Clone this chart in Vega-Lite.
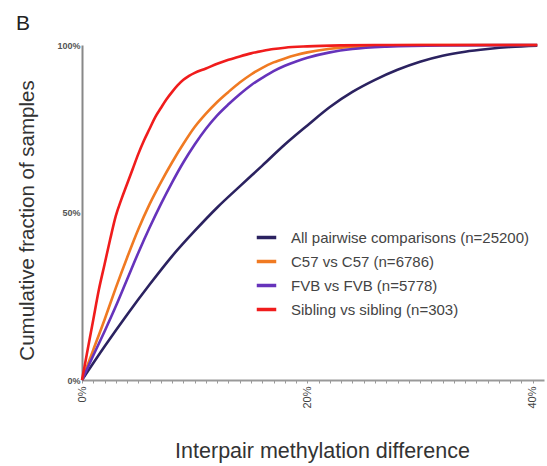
{
  "$schema": "https://vega.github.io/schema/vega-lite/v6.json",
  "autosize": {"type": "none"},
  "padding": {"left": 82, "top": 45, "right": 3, "bottom": 86},
  "width": 462,
  "height": 335,
  "background": "white",
  "config": {"font": "Liberation Sans", "view": {"stroke": null}},
  "title": {"text": "B", "anchor": "start", "frame": "group", "dx": -66, "offset": 6, "fontSize": 21, "fontWeight": "normal", "color": "#222"},
  "data": {"values": [
    {"s": "All pairwise comparisons (n=25200)", "x": 0, "y": 0},
    {"s": "All pairwise comparisons (n=25200)", "x": 2, "y": 10},
    {"s": "All pairwise comparisons (n=25200)", "x": 4, "y": 19.5},
    {"s": "All pairwise comparisons (n=25200)", "x": 6, "y": 28.5},
    {"s": "All pairwise comparisons (n=25200)", "x": 8, "y": 37},
    {"s": "All pairwise comparisons (n=25200)", "x": 10, "y": 44.5},
    {"s": "All pairwise comparisons (n=25200)", "x": 12, "y": 51.5},
    {"s": "All pairwise comparisons (n=25200)", "x": 14, "y": 57.8},
    {"s": "All pairwise comparisons (n=25200)", "x": 16, "y": 64},
    {"s": "All pairwise comparisons (n=25200)", "x": 18, "y": 70.3},
    {"s": "All pairwise comparisons (n=25200)", "x": 20, "y": 76},
    {"s": "All pairwise comparisons (n=25200)", "x": 22, "y": 81.5},
    {"s": "All pairwise comparisons (n=25200)", "x": 24, "y": 86},
    {"s": "All pairwise comparisons (n=25200)", "x": 26, "y": 89.6},
    {"s": "All pairwise comparisons (n=25200)", "x": 28, "y": 92.6},
    {"s": "All pairwise comparisons (n=25200)", "x": 30, "y": 95},
    {"s": "All pairwise comparisons (n=25200)", "x": 32, "y": 96.8},
    {"s": "All pairwise comparisons (n=25200)", "x": 34, "y": 98},
    {"s": "All pairwise comparisons (n=25200)", "x": 36, "y": 98.8},
    {"s": "All pairwise comparisons (n=25200)", "x": 38, "y": 99.4},
    {"s": "All pairwise comparisons (n=25200)", "x": 40.4, "y": 99.8},

    {"s": "C57 vs C57 (n=6786)", "x": 0, "y": 0},
    {"s": "C57 vs C57 (n=6786)", "x": 1, "y": 9},
    {"s": "C57 vs C57 (n=6786)", "x": 2, "y": 18},
    {"s": "C57 vs C57 (n=6786)", "x": 3, "y": 27.5},
    {"s": "C57 vs C57 (n=6786)", "x": 4, "y": 36.5},
    {"s": "C57 vs C57 (n=6786)", "x": 5, "y": 45},
    {"s": "C57 vs C57 (n=6786)", "x": 6, "y": 52.5},
    {"s": "C57 vs C57 (n=6786)", "x": 7, "y": 59},
    {"s": "C57 vs C57 (n=6786)", "x": 8, "y": 65},
    {"s": "C57 vs C57 (n=6786)", "x": 9, "y": 70.5},
    {"s": "C57 vs C57 (n=6786)", "x": 10, "y": 75.5},
    {"s": "C57 vs C57 (n=6786)", "x": 11, "y": 79.5},
    {"s": "C57 vs C57 (n=6786)", "x": 12, "y": 83},
    {"s": "C57 vs C57 (n=6786)", "x": 13, "y": 86},
    {"s": "C57 vs C57 (n=6786)", "x": 14, "y": 88.8},
    {"s": "C57 vs C57 (n=6786)", "x": 15, "y": 91.2},
    {"s": "C57 vs C57 (n=6786)", "x": 16, "y": 93.2},
    {"s": "C57 vs C57 (n=6786)", "x": 17, "y": 94.8},
    {"s": "C57 vs C57 (n=6786)", "x": 18, "y": 96},
    {"s": "C57 vs C57 (n=6786)", "x": 19, "y": 97},
    {"s": "C57 vs C57 (n=6786)", "x": 20, "y": 97.8},
    {"s": "C57 vs C57 (n=6786)", "x": 22, "y": 98.9},
    {"s": "C57 vs C57 (n=6786)", "x": 25, "y": 99.6},
    {"s": "C57 vs C57 (n=6786)", "x": 30, "y": 99.95},
    {"s": "C57 vs C57 (n=6786)", "x": 40.4, "y": 100},

    {"s": "FVB vs FVB (n=5778)", "x": 0, "y": 0},
    {"s": "FVB vs FVB (n=5778)", "x": 1, "y": 7.3},
    {"s": "FVB vs FVB (n=5778)", "x": 2, "y": 14.5},
    {"s": "FVB vs FVB (n=5778)", "x": 3, "y": 22},
    {"s": "FVB vs FVB (n=5778)", "x": 4, "y": 30},
    {"s": "FVB vs FVB (n=5778)", "x": 5, "y": 38},
    {"s": "FVB vs FVB (n=5778)", "x": 6, "y": 45.5},
    {"s": "FVB vs FVB (n=5778)", "x": 7, "y": 52.5},
    {"s": "FVB vs FVB (n=5778)", "x": 8, "y": 59},
    {"s": "FVB vs FVB (n=5778)", "x": 9, "y": 65},
    {"s": "FVB vs FVB (n=5778)", "x": 10, "y": 70.3},
    {"s": "FVB vs FVB (n=5778)", "x": 11, "y": 75},
    {"s": "FVB vs FVB (n=5778)", "x": 12, "y": 79},
    {"s": "FVB vs FVB (n=5778)", "x": 13, "y": 82.3},
    {"s": "FVB vs FVB (n=5778)", "x": 14, "y": 85.3},
    {"s": "FVB vs FVB (n=5778)", "x": 15, "y": 88},
    {"s": "FVB vs FVB (n=5778)", "x": 16, "y": 90.2},
    {"s": "FVB vs FVB (n=5778)", "x": 17, "y": 92.2},
    {"s": "FVB vs FVB (n=5778)", "x": 18, "y": 93.8},
    {"s": "FVB vs FVB (n=5778)", "x": 19, "y": 95.1},
    {"s": "FVB vs FVB (n=5778)", "x": 20, "y": 96.2},
    {"s": "FVB vs FVB (n=5778)", "x": 22, "y": 97.8},
    {"s": "FVB vs FVB (n=5778)", "x": 24, "y": 98.8},
    {"s": "FVB vs FVB (n=5778)", "x": 27, "y": 99.5},
    {"s": "FVB vs FVB (n=5778)", "x": 32, "y": 99.9},
    {"s": "FVB vs FVB (n=5778)", "x": 40.4, "y": 100},

    {"s": "Sibling vs sibling (n=303)", "x": 0, "y": 0},
    {"s": "Sibling vs sibling (n=303)", "x": 0.5, "y": 9},
    {"s": "Sibling vs sibling (n=303)", "x": 1, "y": 18},
    {"s": "Sibling vs sibling (n=303)", "x": 1.5, "y": 27},
    {"s": "Sibling vs sibling (n=303)", "x": 2, "y": 34.5},
    {"s": "Sibling vs sibling (n=303)", "x": 2.5, "y": 42},
    {"s": "Sibling vs sibling (n=303)", "x": 3, "y": 49},
    {"s": "Sibling vs sibling (n=303)", "x": 3.5, "y": 54},
    {"s": "Sibling vs sibling (n=303)", "x": 4, "y": 58.5},
    {"s": "Sibling vs sibling (n=303)", "x": 4.5, "y": 63},
    {"s": "Sibling vs sibling (n=303)", "x": 5, "y": 67.5},
    {"s": "Sibling vs sibling (n=303)", "x": 5.5, "y": 71.5},
    {"s": "Sibling vs sibling (n=303)", "x": 6, "y": 75},
    {"s": "Sibling vs sibling (n=303)", "x": 6.5, "y": 78.5},
    {"s": "Sibling vs sibling (n=303)", "x": 7, "y": 81.2},
    {"s": "Sibling vs sibling (n=303)", "x": 7.5, "y": 83.8},
    {"s": "Sibling vs sibling (n=303)", "x": 8, "y": 86},
    {"s": "Sibling vs sibling (n=303)", "x": 8.5, "y": 88},
    {"s": "Sibling vs sibling (n=303)", "x": 9, "y": 89.6},
    {"s": "Sibling vs sibling (n=303)", "x": 9.5, "y": 90.8},
    {"s": "Sibling vs sibling (n=303)", "x": 10, "y": 91.7},
    {"s": "Sibling vs sibling (n=303)", "x": 11, "y": 93},
    {"s": "Sibling vs sibling (n=303)", "x": 12, "y": 94.4},
    {"s": "Sibling vs sibling (n=303)", "x": 13, "y": 95.6},
    {"s": "Sibling vs sibling (n=303)", "x": 14, "y": 96.6},
    {"s": "Sibling vs sibling (n=303)", "x": 15, "y": 97.5},
    {"s": "Sibling vs sibling (n=303)", "x": 16, "y": 98.2},
    {"s": "Sibling vs sibling (n=303)", "x": 17, "y": 98.8},
    {"s": "Sibling vs sibling (n=303)", "x": 18, "y": 99.2},
    {"s": "Sibling vs sibling (n=303)", "x": 20, "y": 99.6},
    {"s": "Sibling vs sibling (n=303)", "x": 23, "y": 99.9},
    {"s": "Sibling vs sibling (n=303)", "x": 26, "y": 100},
    {"s": "Sibling vs sibling (n=303)", "x": 40.4, "y": 100}
  ]},
  "mark": {"type": "line", "strokeWidth": 2.6, "interpolate": "monotone", "clip": false},
  "encoding": {
    "x": {
      "field": "x", "type": "quantitative",
      "scale": {"domain": [0, 41], "nice": false},
      "title": "Interpair methylation difference",
      "axis": {
        "values": [0,1,2,3,4,5,6,7,8,9,10,11,12,13,14,15,16,17,18,19,20,21,22,23,24,25,26,27,28,29,30,31,32,33,34,35,36,37,38,39,40],
        "labelExpr": "datum.value % 20 === 0 ? datum.value + '%' : ''",
        "labelAngle": -90, "labelFontSize": 11, "labelColor": "#444", "labelPadding": 3,
        "tickSize": 3, "tickColor": "#999", "domainColor": "#999", "domainWidth": 2,
        "grid": false, "titleFontSize": 21.5, "titleFontWeight": "normal", "titleColor": "#333",
        "titleX": 240, "titleY": 77, "titleBaseline": "alphabetic", "titleAlign": "center"
      }
    },
    "y": {
      "field": "y", "type": "quantitative",
      "scale": {"domain": [0, 100], "nice": false},
      "title": "Cumulative fraction of samples",
      "axis": {
        "values": [0, 50, 100],
        "labelExpr": "datum.value + '%'",
        "labelFontSize": 9, "labelColor": "#555", "labelPadding": 2, "labelFontWeight": "bold",
        "ticks": false, "domainColor": "#888", "domainWidth": 2,
        "grid": false, "titleFontSize": 20.5, "titleFontWeight": "normal", "titleColor": "#333",
        "titleX": -49, "titleY": 175, "titleAngle": -90, "titleBaseline": "alphabetic", "titleAlign": "center"
      }
    },
    "color": {
      "field": "s", "type": "nominal",
      "scale": {
        "domain": ["All pairwise comparisons (n=25200)", "C57 vs C57 (n=6786)", "FVB vs FVB (n=5778)", "Sibling vs sibling (n=303)"],
        "range": ["#2b2260", "#f07a22", "#6633bb", "#f01c1c"]
      },
      "legend": {
        "title": null, "orient": "none", "legendX": 173, "legendY": 181,
        "symbolType": "stroke", "symbolStrokeWidth": 3.5, "symbolSize": 380,
        "labelFontSize": 15, "labelColor": "#444", "rowPadding": 4, "labelOffset": 13,
        "labelLimit": 300
      }
    }
  }
}
